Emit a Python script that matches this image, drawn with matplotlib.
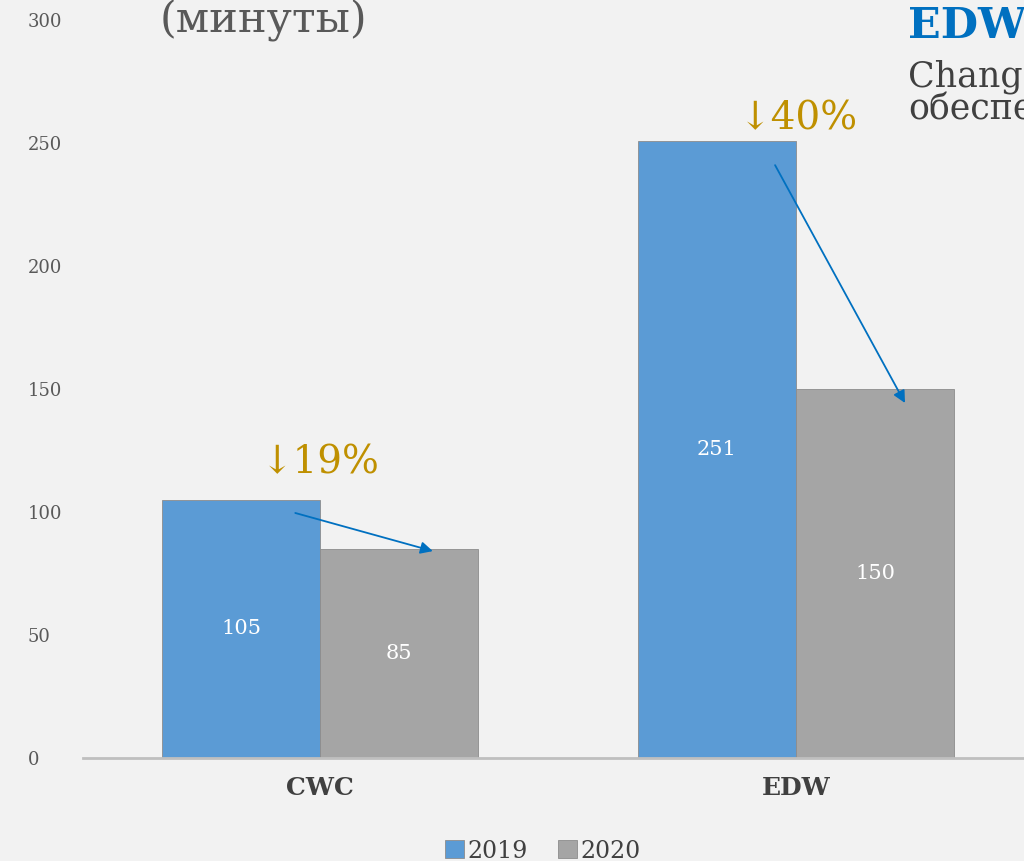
import matplotlib
matplotlib.use("Agg")
import matplotlib.pyplot as plt
import numpy as np

categories = ["CWC", "EDW"]
years = ["2019", "2020"]
values_2019 = [105, 251]
values_2020 = [85, 150]
change_labels = ["↓19%", "↓40%"]
yticks = [0, 50, 100, 150, 200, 250, 300]

BG = "#f2f2f2"
BLUE = "#5b9bd5"
GRAY = "#a5a5a5"
GOLD = "#bf9000"
ARROW = "#0070c0"
SERIF = ["DejaVu Serif", "DejaVu Sans"]

fig = plt.figure(figsize=(10.24, 8.61), dpi=100, facecolor=BG)
ax = fig.add_axes([83/1024, 103/861, 1 - 83/1024, (738)/861])
ax.set_facecolor(BG)

x = np.arange(len(categories))
w = 0.332
b1 = ax.bar(x - w/2, values_2019, w, color=BLUE, edgecolor="#8c8c8c", linewidth=0.6, label=years[0], zorder=2)
b2 = ax.bar(x + w/2, values_2020, w, color=GRAY, edgecolor="#8c8c8c", linewidth=0.6, label=years[1], zorder=2)

for bars, vals in ((b1, values_2019), (b2, values_2020)):
    for r, v in zip(bars, vals):
        ax.text(r.get_x() + r.get_width()/2, v/2, str(v), ha="center", va="center",
                color="white", fontsize=15, family=SERIF, zorder=3)

ax.set_xlim(-0.498, 1.479)
ax.set_ylim(0, 300)
ax.set_yticks(yticks)
ax.set_yticklabels([str(t) for t in yticks], family=SERIF, fontsize=13, color="#595959")
for lab in ax.get_yticklabels():
    lab.set_horizontalalignment("left")
ax.tick_params(axis="y", length=0, pad=40)
ax.set_xticks(x)
ax.set_xticklabels(categories, family=SERIF, fontsize=18, fontweight="bold", color="#404040")
ax.tick_params(axis="x", length=0, pad=13)

for s in ["top", "right", "left"]:
    ax.spines[s].set_visible(False)
ax.spines["bottom"].set_color("#bfbfbf")
ax.spines["bottom"].set_linewidth(2)

# change annotations
ax.text(x[0], 120, change_labels[0], ha="center", va="center", color=GOLD, fontsize=28, family=SERIF)
ax.text(x[1] + 0.005, 260, change_labels[1], ha="center", va="center", color=GOLD, fontsize=28, family=SERIF)

# arrows from 2019 bar to 2020 bar
arrow_pts = [((x[0] - 0.052, 99.6), (x[0] + 0.237, 84.1)),
             ((x[1] - 0.044, 241), (x[1] + 0.229, 144.3))]
for (xs, ys), (xe, ye) in arrow_pts:
    ax.annotate("", xy=(xe, ye), xytext=(xs, ys),
                arrowprops=dict(arrowstyle="-|>", color=ARROW, lw=1.3, mutation_scale=18,
                                shrinkA=0, shrinkB=0), zorder=4)

# titles (partially cut off, as in the reference)
fig.text(263/1024, 1 - 32/861, "(минуты)", ha="center", va="baseline", fontsize=31,
         family=SERIF, color="#595959")
fig.text(908/1024, 1 - 38/861, "EDW", ha="left", va="baseline", fontsize=31,
         family=SERIF, fontweight="bold", color="#0070c0")
fig.text(908/1024, 1 - 87/861, "Change", ha="left", va="baseline", fontsize=25,
         family=SERIF, color="#404040")
fig.text(908/1024, 1 - 120/861, "обеспечение", ha="left", va="baseline", fontsize=25,
         family=SERIF, color="#404040")

leg = fig.legend(handles=[b1, b2], labels=years, loc="center", bbox_to_anchor=(543/1024, 1 - 851/861),
                 ncol=2, frameon=False, prop={"family": SERIF, "size": 17},
                 handlelength=0.8, handleheight=0.8, handletextpad=0.15, columnspacing=1.3)
for t in leg.get_texts():
    t.set_color("#404040")

fig.savefig("out.png", dpi=100, facecolor=BG)
